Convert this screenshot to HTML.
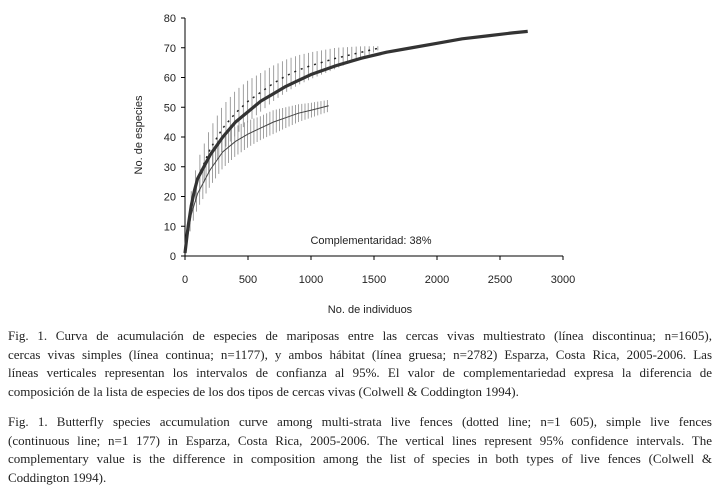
<!DOCTYPE html>
<html><head><meta charset="utf-8">
<style>
body{margin:0;width:720px;height:488px;background:#fff;overflow:hidden;font-family:"Liberation Sans",sans-serif}
#chart{position:absolute;left:0;top:0}
.cap{position:absolute;left:8px;width:704px;font-family:"Liberation Serif",serif;font-size:13px;color:#222}
.cap div{height:18.6px;line-height:18.6px;text-align:justify;text-align-last:justify;white-space:nowrap;overflow:visible}
.cap div.last{text-align-last:left}
</style></head><body>
<svg id="chart" width="720" height="320" xmlns="http://www.w3.org/2000/svg"></svg>
<div class="cap" style="top:327px">
<div>Fig. 1. Curva de acumulación de especies de mariposas entre las cercas vivas multiestrato (línea discontinua; n=1605),</div>
<div>cercas vivas simples (línea continua; n=1177), y ambos hábitat (línea gruesa; n=2782) Esparza, Costa Rica, 2005-2006. Las</div>
<div>líneas verticales representan los intervalos de confianza al 95%. El valor de complementariedad expresa la diferencia de</div>
<div class="last">composición de la lista de especies de los dos tipos de cercas vivas (Colwell &amp; Coddington 1994).</div>
</div>
<div class="cap" style="top:413px">
<div>Fig. 1. Butterfly species accumulation curve among multi-strata live fences (dotted line; n=1 605), simple live fences</div>
<div>(continuous line; n=1 177) in Esparza, Costa Rica, 2005-2006. The vertical lines represent 95% confidence intervals. The</div>
<div>complementary value is the difference in composition among the list of species in both types of live fences (Colwell &amp;</div>
<div class="last">Coddington 1994).</div>
</div>
<script>
const xTicks=[0,500,1000,1500,2000,2500,3000];
const yTicks=[0,10,20,30,40,50,60,70,80];
const combinedX=[0,25,50,75,100,150,200,300,400,500,600,700,800,900,1000,1200,1400,1600,1800,2000,2200,2400,2600,2720];
const combinedY=[1,10,17,22,26,30,34,40,45,48.5,52,54.5,57,59,61,64,66.5,68.5,70,71.5,73,74,75,75.5];
const multiX=[0,50,100,200,300,400,500,600,700,800,900,1000,1200,1400,1550];
const multiY=[1,18,26,36,43,48,52,55,58,60.5,62.5,64,66.5,68.5,70];
const simpleX=[0,50,100,200,300,400,500,600,700,800,900,1000,1140];
const simpleY=[1,14,21,29,35,38.5,41,43,45,46.5,48,49,50.5];
const multiCI=[0,4,6,7,7.5,7.5,7,6.5,6,5.5,5,4.5,3.5,2,0.5];
const simpleCI=[0,4,5,5.5,5.5,5,4.5,4,4,3.5,3,2.5,2];

const svg=document.getElementById('chart');
const NS='http://www.w3.org/2000/svg';
const X0=185,X1=563,Y0=256,Y1=18;
const sx=v=>X0+(v-0)/3000*(X1-X0);
const sy=v=>Y0-(v-0)/80*(Y0-Y1);
function mk(t,a){const e=document.createElementNS(NS,t);for(const k in a)e.setAttribute(k,a[k]);svg.appendChild(e);return e;}
function interp(xs,ys,x){for(let i=1;i<xs.length;i++){if(x<=xs[i]){const t=(x-xs[i-1])/(xs[i]-xs[i-1]);return ys[i-1]+t*(ys[i]-ys[i-1]);}}return ys[ys.length-1];}

let e=mk('line',{x1:X0,y1:Y1,x2:X0,y2:Y0,stroke:'#000','stroke-width':1});

e=mk('line',{x1:X0,y1:Y0,x2:X1,y2:Y0,stroke:'#000','stroke-width':1});

yTicks.forEach(v=>{
  const t=mk('line',{x1:X0-4,y1:sy(v),x2:X0,y2:sy(v),stroke:'#000'});
  
  const l=mk('text',{x:X0-9,y:sy(v)+4,'text-anchor':'end','font-size':11,fill:'#222'});l.textContent=v;
  
});
xTicks.forEach(v=>{
  const t=mk('line',{x1:sx(v),y1:Y0,x2:sx(v),y2:Y0+4,stroke:'#000'});
  
  const l=mk('text',{x:sx(v),y:283,'text-anchor':'middle','font-size':11,fill:'#222'});l.textContent=v;
  
});
e=mk('text',{x:370,y:313,'text-anchor':'middle','font-size':11,fill:'#222'});e.textContent='No. de individuos';

e=mk('text',{x:0,y:0,'text-anchor':'middle','font-size':11,fill:'#222',transform:'translate(142,135) rotate(-90)'});e.textContent='No. de especies';

e=mk('text',{x:371,y:244,'text-anchor':'middle','font-size':11,fill:'#222'});e.textContent='Complementaridad: 38%';


// confidence interval bars
function ciBars(xs,ys,cis,name){
  const maxX=xs[xs.length-1];
  for(let x=15;x<=maxX;x+=Math.max(15,maxX/45)){
    const y=interp(xs,ys,x),c=interp(xs,cis,x);
    const b=mk('line',{x1:sx(x),y1:sy(y-c),x2:sx(x),y2:sy(y+c),stroke:'#888','stroke-width':0.8});
    
  }
}
ciBars(multiX,multiY,multiCI,'multistrata-ci-bar');
ciBars(simpleX,simpleY,simpleCI,'simple-ci-bar');
const pts=(xs,ys)=>xs.map((x,i)=>sx(x)+','+sy(ys[i])).join(' ');
e=mk('polyline',{points:pts(simpleX,simpleY),fill:'none',stroke:'#444','stroke-width':1});

e=mk('polyline',{points:pts(multiX,multiY),fill:'none',stroke:'#222','stroke-width':1.5,'stroke-dasharray':'2 5'});

e=mk('polyline',{points:pts(combinedX,combinedY),fill:'none',stroke:'#333','stroke-width':3.2,'stroke-linejoin':'round'});

</script>
</body></html>
